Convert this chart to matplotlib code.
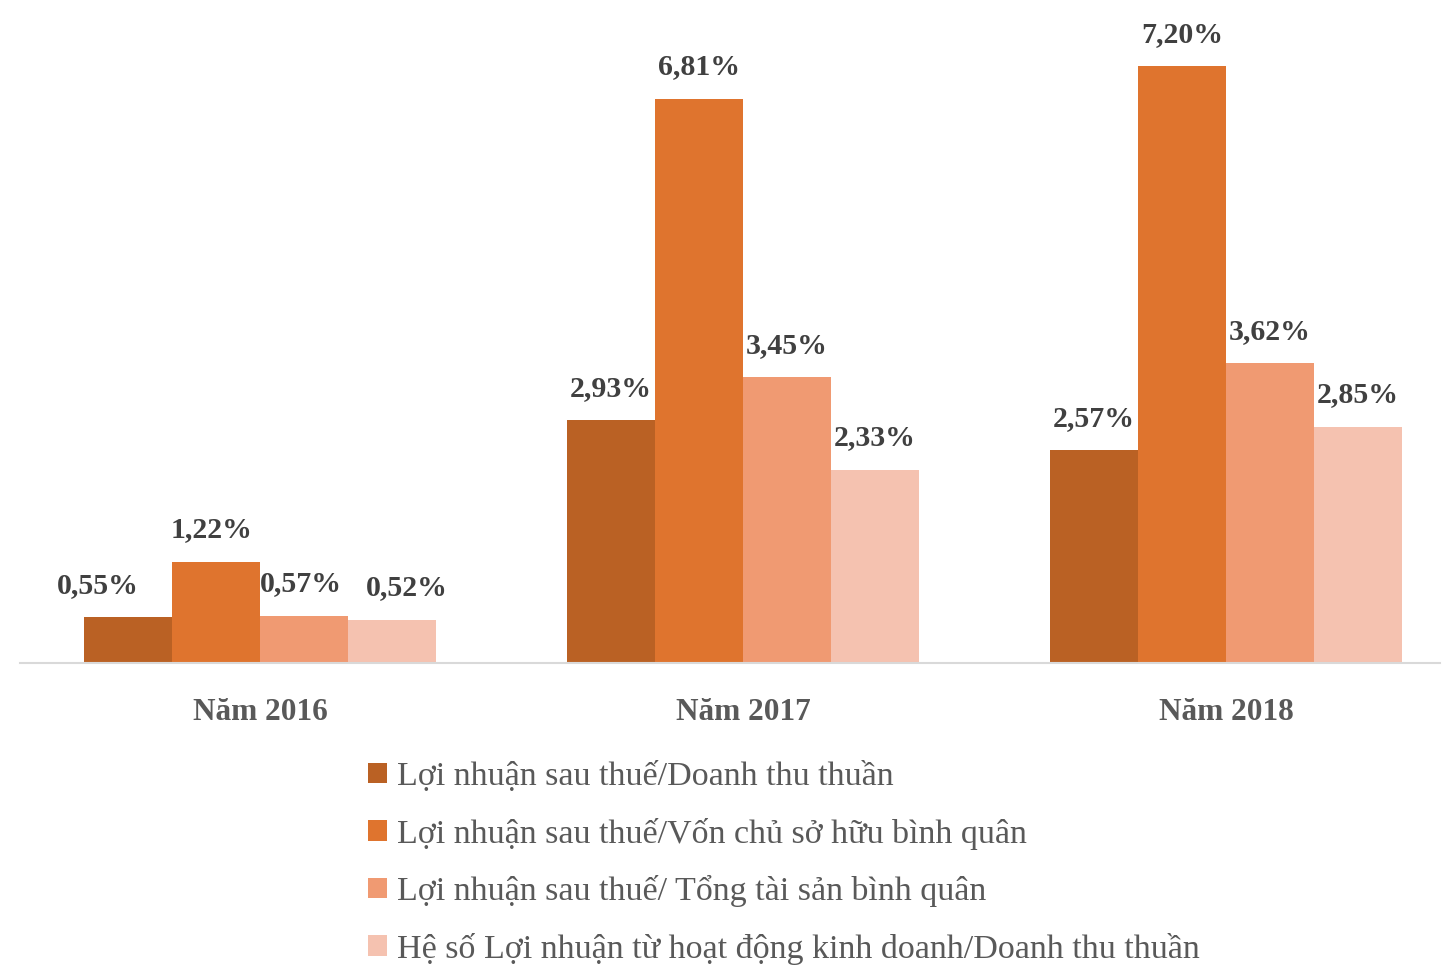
import matplotlib
matplotlib.use("Agg")
import matplotlib.pyplot as plt
import numpy as np
from matplotlib.patches import Patch

categories = ["Năm 2016", "Năm 2017", "Năm 2018"]
series_names = [
    "Lợi nhuận sau thuế/Doanh thu thuần",
    "Lợi nhuận sau thuế/Vốn chủ sở hữu bình quân",
    "Lợi nhuận sau thuế/ Tổng tài sản bình quân",
    "Hệ số Lợi nhuận từ hoạt động kinh doanh/Doanh thu thuần",
]
ros = [0.55, 2.93, 2.57]
roe = [1.22, 6.81, 7.20]
roa = [0.57, 3.45, 3.62]
op_margin = [0.52, 2.33, 2.85]
values = [ros, roe, roa, op_margin]
colors = ["#BA6124", "#DF742E", "#F09A72", "#F5C2B0"]

# label x nudges (points) for crowded first group
nudges = [[-22, 0, 0], [-3, 0, 0], [-2, 0, 0], [11, 0, 0]]

plt.rcParams['font.family'] = ['Liberation Serif', 'DejaVu Serif']

W, H = 1442, 965
fig = plt.figure(figsize=(W / 100, H / 100), dpi=100)
ax = fig.add_axes([20 / W, (H - 663) / H, 1420 / W, 663 / H])

x = np.arange(len(categories))
bw = 88 / 483
for i, (vals, c) in enumerate(zip(values, colors)):
    pos = x + (i - 1.5) * bw
    bars = ax.bar(pos, vals, width=bw, color=c, label=series_names[i], zorder=2)
    for j, (b, v) in enumerate(zip(bars, vals)):
        ax.annotate(f"{v:.2f}%".replace(".", ","),
                    (b.get_x() + b.get_width() / 2, v),
                    xytext=(nudges[i][j], 23), textcoords="offset points",
                    ha="center", va="center", fontsize=21.5, fontweight="bold",
                    color="#404040")

ax.set_ylim(0, 8)
ax.set_xlim((20 - 260) / 483, (1440 - 260) / 483)
ax.set_xticks(x)
ax.set_xticklabels(categories, fontsize=22.5, fontweight="bold", color="#595959")
ax.tick_params(axis="x", length=0, pad=25)
ax.set_yticks([])
for s in ["top", "right", "left"]:
    ax.spines[s].set_visible(False)
ax.spines["bottom"].set_color("#D9D9D9")
ax.spines["bottom"].set_linewidth(1.5)

handles = [Patch(facecolor=c, edgecolor="none") for c in colors]
leg = fig.legend(handles, series_names, loc="upper left",
                 bbox_to_anchor=(368 / W, 1 - 761 / H),
                 frameon=False, fontsize=24.5, labelcolor="#595959",
                 handlelength=0.56, handleheight=0.56, handletextpad=0.3,
                 labelspacing=0.75, borderaxespad=0, borderpad=0)

fig.savefig("out.png", dpi=100)
